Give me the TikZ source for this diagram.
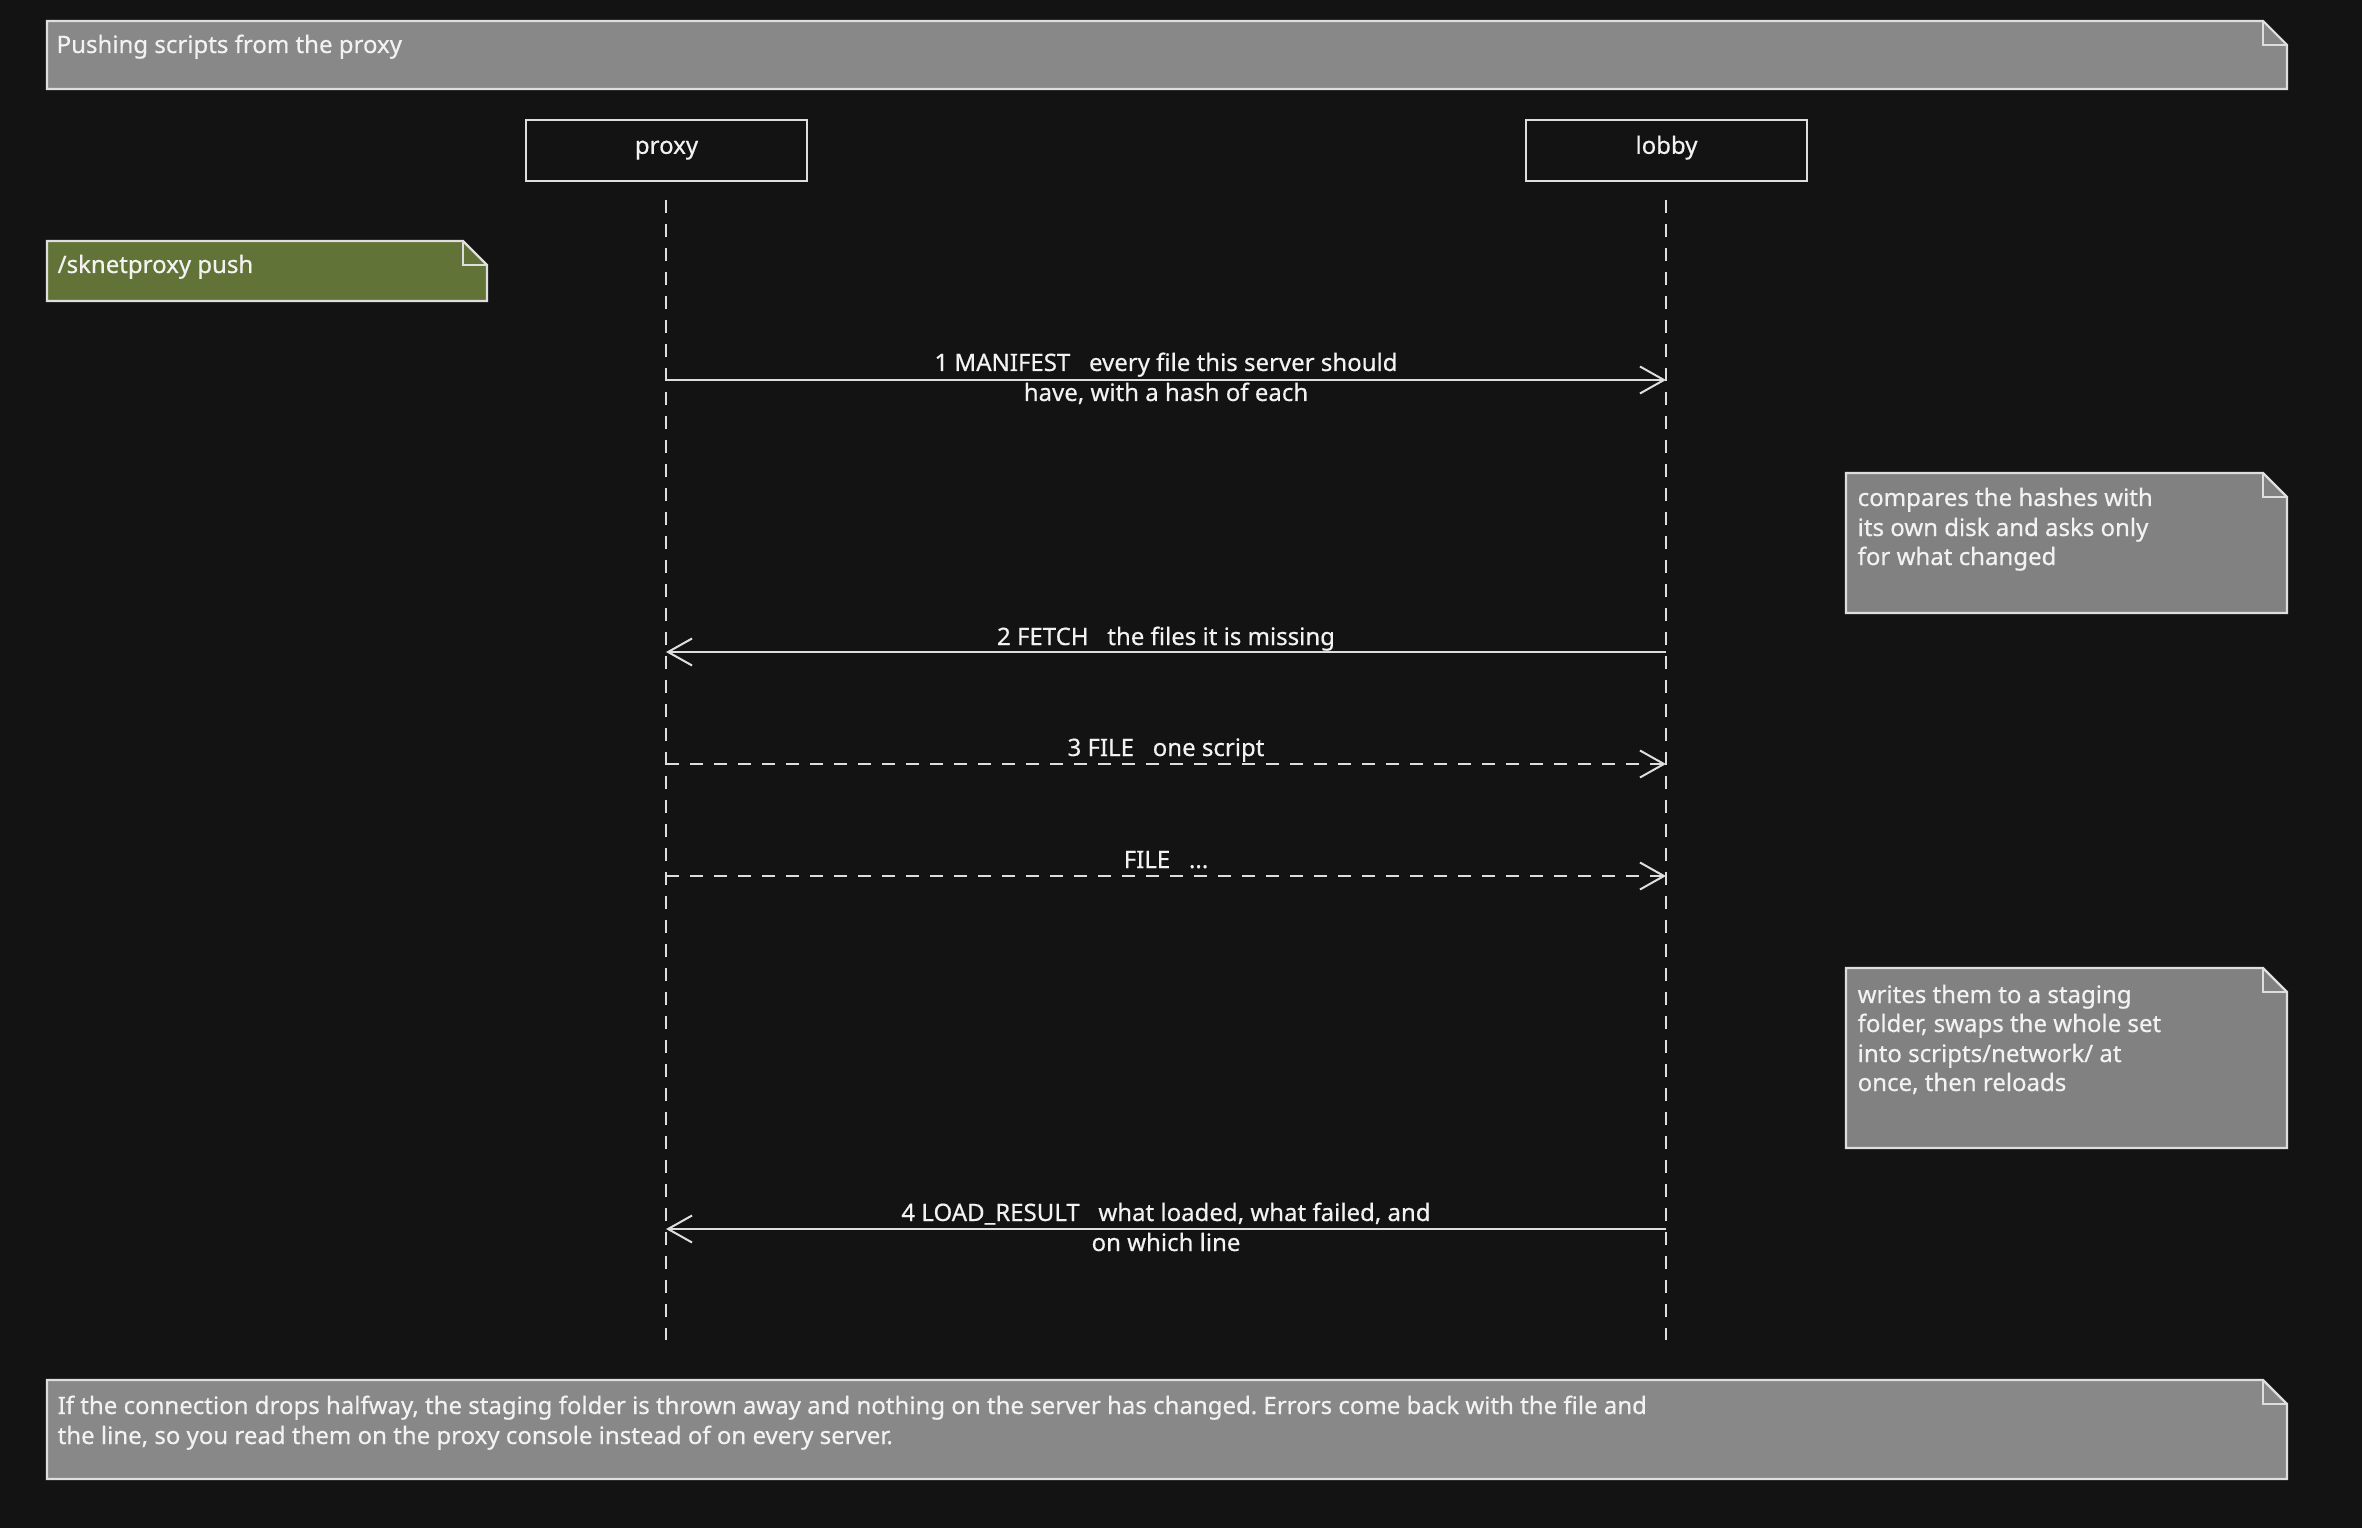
\documentclass[tikz,border=0pt]{standalone}
\usepackage{fontspec}
\setmainfont{Noto Sans}[FakeBold=0.5]
\usetikzlibrary{arrows.meta}
\frenchspacing
\definecolor{bg}{HTML}{131313}
\definecolor{edge}{HTML}{DEDEDE}
\definecolor{txtc}{HTML}{F2F2F2}
\definecolor{notegray}{HTML}{888888}
\definecolor{sidegray}{HTML}{818181}
\definecolor{notegreen}{HTML}{627337}
\newcommand\dognote[5]{%
  \draw[noteline, fill=#5] (#1,#2) -- ({#3-24},#2) -- (#3,{#2+24}) -- (#3,#4) -- (#1,#4) -- cycle;
  \draw[noteline] ({#3-24},#2) -- ({#3-24},{#2+24}) -- (#3,{#2+24});
}
\begin{document}
\begin{tikzpicture}[x=0.3pt,y=-0.3pt,
  noteline/.style={draw=edge, line width=0.65pt, line join=miter},
  txt/.style={text=txtc, inner sep=0pt, font=\fontsize{7.2}{9}\selectfont},
  part/.style={draw=edge, line width=0.65pt, fill=bg, text=txtc, minimum width=84.3pt, minimum height=18.3pt, inner sep=0pt, text height=4pt, text depth=2pt, font=\fontsize{7.2}{9}\selectfont},
  life/.style={draw=edge, line width=0.6pt, dash pattern=on 3.9pt off 3.3pt},
  msg/.style={draw=edge, line width=0.65pt, -{Straight Barb[length=7.2pt,width=8.1pt,line width=0.6pt]}},
  dmsg/.style={msg, dash pattern=on 3.9pt off 3.3pt}
]
\fill[bg] (0,0) rectangle (2362,1528);
\useasboundingbox (0,0) rectangle (2362,1528);

% title
\dognote{47}{21}{2287}{89}{notegray}
\node[txt, anchor=base west] (title) at (56,53) {Pushing scripts from the proxy};

% participants
\node[part] (proxy) at (666.5,150.5) {proxy};
\node[part] (lobby) at (1666.5,150.5) {lobby};

% lifelines
\coordinate (pt) at (666,200); \coordinate (pb) at (666,1340);
\coordinate (lt) at (1666,200); \coordinate (lb) at (1666,1340);
\draw[life] (pt) -- (pb);
\draw[life] (lt) -- (lb);

% green note
\dognote{47}{241}{487}{301}{notegreen}
\node[txt, anchor=base west] (cmd) at (57,273) {/sknetproxy push};

% message 1
\coordinate (m1a) at (666,380); \coordinate (m1b) at (1666,380);
\draw[msg] (m1a) -- (m1b);
\node[txt, anchor=base] (m1t) at (1166,371) {1 MANIFEST\ \ \ every file this server should};
\node[txt, anchor=base] (m1u) at (1166,401) {have, with a hash of each};

% note 1
\dognote{1846}{473}{2287}{613}{sidegray}
\node[txt, anchor=base west] (n1a) at (1857,506) {compares the hashes with};
\node[txt, anchor=base west] (n1b) at (1857,536) {its own disk and asks only};
\node[txt, anchor=base west] (n1c) at (1857,565) {for what changed};

% message 2
\coordinate (m2a) at (1666,652); \coordinate (m2b) at (666,652);
\draw[msg] (m2a) -- (m2b);
\node[txt, anchor=base] (m2t) at (1166,645) {2 FETCH\ \ \ the files it is missing};

% message 3
\coordinate (m3a) at (666,764); \coordinate (m3b) at (1666,764);
\draw[dmsg] (m3a) -- (m3b);
\node[txt, anchor=base] (m3t) at (1166,756) {3 FILE\ \ \ one script};

% message FILE ...
\coordinate (m5a) at (666,876); \coordinate (m5b) at (1666,876);
\draw[dmsg] (m5a) -- (m5b);
\node[txt, anchor=base] (m5t) at (1166,868) {FILE\ \ \ ...};

% note 2
\dognote{1846}{968}{2287}{1148}{sidegray}
\node[txt, anchor=base west] (n2a) at (1857,1003) {writes them to a staging};
\node[txt, anchor=base west] (n2b) at (1857,1032) {folder, swaps the whole set};
\node[txt, anchor=base west] (n2c) at (1857,1062) {into scripts/network/ at};
\node[txt, anchor=base west] (n2d) at (1857,1091) {once, then reloads};

% message 4
\coordinate (m4a) at (1666,1229); \coordinate (m4b) at (666,1229);
\draw[msg] (m4a) -- (m4b);
\node[txt, anchor=base] (m4t) at (1166,1221) {4 LOAD\_RESULT\ \ \ what loaded, what failed, and};
\node[txt, anchor=base] (m4u) at (1166,1251) {on which line};

% bottom note
\dognote{47}{1380}{2287}{1479}{notegray}
\node[txt, anchor=base west] (b1) at (57,1414) {If the connection drops halfway, the staging folder is thrown away and nothing on the server has changed. Errors come back with the file and};
\node[txt, anchor=base west] (b2) at (57,1444) {the line, so you read them on the proxy console instead of on every server.};
\end{tikzpicture}
\end{document}
